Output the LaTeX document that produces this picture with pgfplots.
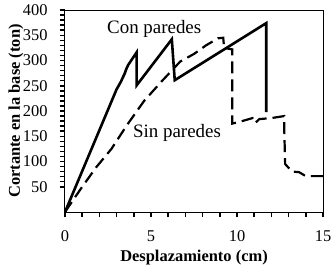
\documentclass[border=0pt]{standalone}
\usepackage{fontspec}
\setmainfont{Liberation Serif}
\usepackage{pgfplots}
\pgfplotsset{compat=1.18}
\begin{document}
\begin{tikzpicture}
\useasboundingbox (-65bp,-63bp) rectangle (269bp,212bp);
\begin{axis}[
  anchor=south west, at={(0,0)},
  scale only axis,
  width=258bp, height=202bp,
  xmin=0, xmax=15, ymin=0, ymax=400,
  xtick={0,5,10,15}, ytick={50,100,...,400},
  minor x tick num=4, minor y tick num=4,
  xtick pos=left, ytick pos=left,
  tick align=outside,
  major tick length=5bp, minor tick length=5bp,
  tick style={line width=1.5bp, black},
  axis line style={line width=1bp},
  /pgf/number format/assume math mode=true,
  tick label style={font=\fontsize{16.5}{16.5}\selectfont},
  xticklabel style={yshift=-10bp},
  yticklabel style={xshift=-9bp},
  every axis x label/.style={at={(rel axis cs:0.5,0)}, yshift=-46bp, anchor=center},
  every axis y label/.style={at={(rel axis cs:0,0.5)}, xshift=-49bp, rotate=90, anchor=center},
  label style={font=\fontsize{16.5}{16.5}\selectfont\bfseries},
  xlabel={Desplazamiento (cm)},
  ylabel={Cortante en la base (ton)},
]
\addplot[black, line width=2.6bp, line join=miter] coordinates {
 (0,0) (3.0,243) (3.15,252) (3.25,258) (3.48,275) (3.55,282) (3.67,291) (4.16,316) (4.17,251)
 (6.21,342) (6.38,261) (11.7,374) (11.7,198)
};
\addplot[black, line width=2.2bp, dash pattern=on 12bp off 6bp] coordinates {
 (0,0) (0.9,45) (1.8,88) (2.7,125) (3.6,172) (4.6,220) (5.6,258) (6.7,298) (7.5,313)
 (8.2,330) (8.9,344) (9.2,345) (9.25,325) (9.72,322) (9.72,175) (10.3,180) (10.9,186)
 (11.05,176) (11.3,184) (12.0,186) (12.75,190) (12.75,160) (12.8,95) (13.2,80) (13.6,79)
 (14.0,71) (15,71)
};
\node[anchor=base west, inner sep=0pt, font=\fontsize{19}{19}\selectfont] at (axis cs:2.44,354) {Con paredes};
\node[anchor=base west, inner sep=0pt, font=\fontsize{19}{19}\selectfont] at (axis cs:3.95,148) {Sin paredes};
\end{axis}
\end{tikzpicture}
\end{document}
